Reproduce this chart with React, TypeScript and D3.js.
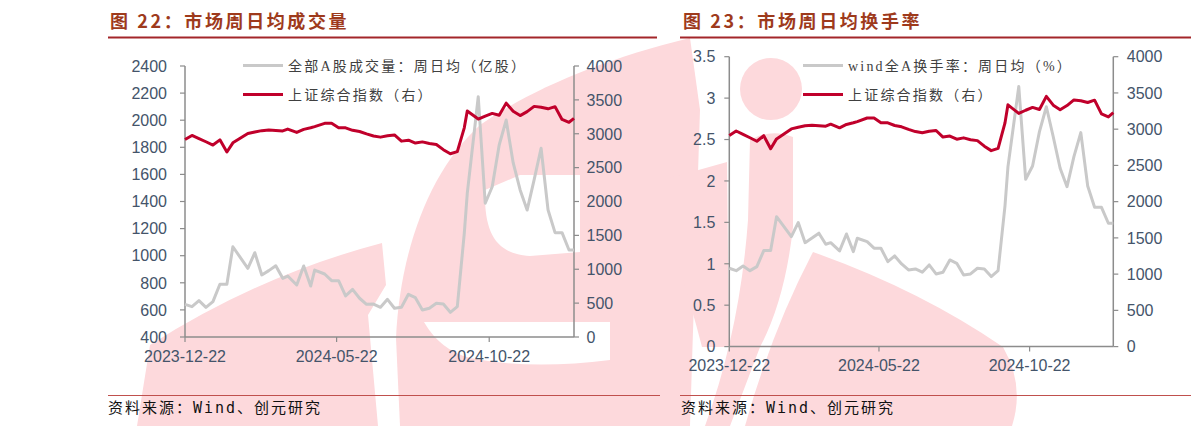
import React from 'react';
import * as d3 from 'd3';

// ---------- DATA ----------
const dates: string[] = [
  '2023-12-22', '2023-12-29', '2024-01-05', '2024-01-12', '2024-01-19', '2024-01-26', '2024-02-02', '2024-02-08',
  '2024-02-23', '2024-03-01', '2024-03-08', '2024-03-15', '2024-03-22', '2024-03-29', '2024-04-03', '2024-04-12',
  '2024-04-19', '2024-04-26', '2024-04-30', '2024-05-10', '2024-05-17', '2024-05-24', '2024-05-31', '2024-06-07',
  '2024-06-14', '2024-06-21', '2024-06-28', '2024-07-05', '2024-07-12', '2024-07-19', '2024-07-26', '2024-08-02',
  '2024-08-09', '2024-08-16', '2024-08-23', '2024-08-30', '2024-09-06', '2024-09-13', '2024-09-20', '2024-09-27',
  '2024-09-30', '2024-10-11', '2024-10-18', '2024-10-25', '2024-11-01', '2024-11-08', '2024-11-15', '2024-11-22',
  '2024-11-29', '2024-12-06', '2024-12-13', '2024-12-20', '2024-12-27', '2025-01-03', '2025-01-10', '2025-01-15',
];

// 上证综合指数（右）
const shIndex: number[] = [
  2914, 2975, 2929, 2882, 2833, 2910, 2730, 2866,
  3004, 3027, 3046, 3055, 3048, 3041, 3069, 3019,
  3065, 3088, 3105, 3154, 3154, 3089, 3087, 3051,
  3033, 2998, 2967, 2950, 2971, 2982, 2891, 2905,
  2862, 2880, 2855, 2842, 2765, 2704, 2736, 3087,
  3336, 3217, 3261, 3300, 3272, 3452, 3331, 3268,
  3326, 3404, 3392, 3368, 3400, 3211, 3169, 3227,
];

// 全部A股成交量：周日均（亿股）
const volume: number[] = [
  641, 624, 668, 619, 661, 789, 789, 1066,
  907, 1022, 858, 890, 926, 833, 850, 784,
  924, 776, 894, 865, 816, 816, 703, 752,
  686, 641, 643, 619, 678, 612, 619, 715,
  690, 599, 612, 649, 643, 582, 624, 1165,
  1460, 2173, 1387, 1509, 1817, 2001, 1686, 1485,
  1337, 1559, 1793, 1337, 1170, 1170, 1042, 1042,
];

// wind全A换手率：周日均（%）
const turnover: number[] = [
  0.946, 0.917, 0.974, 0.917, 0.966, 1.159, 1.159, 1.569,
  1.328, 1.497, 1.255, 1.31, 1.369, 1.236, 1.255, 1.155,
  1.36, 1.147, 1.308, 1.267, 1.188, 1.188, 1.026, 1.095,
  0.998, 0.926, 0.938, 0.898, 0.986, 0.877, 0.898, 1.046,
  1.006, 0.865, 0.877, 0.946, 0.938, 0.845, 0.917, 1.7,
  2.17, 3.14, 2.02, 2.18, 2.595, 2.896, 2.534, 2.153,
  1.931, 2.293, 2.583, 1.939, 1.682, 1.682, 1.489, 1.489,
];

const xTickDates: string[] = ['2023-12-22', '2024-05-22', '2024-10-22'];
const volTicks: number[] = [400, 600, 800, 1000, 1200, 1400, 1600, 1800, 2000, 2200, 2400];
const turnTicks: number[] = [0, 0.5, 1, 1.5, 2, 2.5, 3, 3.5];
const idxTicks: number[] = [0, 500, 1000, 1500, 2000, 2500, 3000, 3500, 4000];

const titles: string[] = ['图 22：市场周日均成交量', '图 23：市场周日均换手率'];
const legendLeft: string[] = ['全部A股成交量：周日均（亿股）', '上证综合指数（右）'];
const legendRight: string[] = ['wind全A换手率：周日均（%）', '上证综合指数（右）'];
const sourceText = '资料来源：Wind、创元研究';

// ---------- STYLE ----------
const W = 1191;
const H = 426;
const GREY = '#c9c9c9';
const RED = '#c0002b';
const AXIS = '#8c8c8c';
const TICK_TXT = '#44546a';
const TITLE = '#9e3a1c';
const PINK = '#fdd9dc';
const NUM_FONT = '"Liberation Sans", Arial, sans-serif';
const CJK_FONT = '"Liberation Serif", "Noto Sans CJK SC", serif';

const parse = d3.timeParse('%Y-%m-%d');
const dateObjs = dates.map((d) => parse(d) as Date);

type PanelProps = {
  left: number; right: number; top: number; bottom: number;
  leftDomain: [number, number]; leftTicks: number[]; leftValues: number[];
  leftFmt: (v: number) => string;
  leftLabelGap: number; rightLabelGap: number;
  legend: string[]; legendX: number;
};

function Panel(p: PanelProps) {
  const x = d3.scaleTime()
    .domain([dateObjs[0], dateObjs[dateObjs.length - 1]])
    .range([p.left, p.right]);
  const yL = d3.scaleLinear().domain(p.leftDomain).range([p.bottom, p.top]);
  const yR = d3.scaleLinear().domain([0, 4000]).range([p.bottom, p.top]);
  const lineL = d3.line<number>().x((_, i) => x(dateObjs[i])).y((v) => yL(v));
  const lineR = d3.line<number>().x((_, i) => x(dateObjs[i])).y((v) => yR(v));
  return (
    <g>
      <line x1={p.left} x2={p.left} y1={p.top} y2={p.bottom} stroke={AXIS} strokeWidth={1.5} />
      <line x1={p.right} x2={p.right} y1={p.top} y2={p.bottom} stroke={AXIS} strokeWidth={1.5} />
      <line x1={p.left} x2={p.right} y1={p.bottom} y2={p.bottom} stroke={AXIS} strokeWidth={1.5} />
      {p.leftTicks.map((t) => (
        <g key={'l' + t}>
          <line x1={p.left - 5} x2={p.left} y1={yL(t)} y2={yL(t)} stroke={AXIS} strokeWidth={1.2} />
          <text x={p.left - p.leftLabelGap} y={yL(t)} dy="0.36em" textAnchor="end"
            fontFamily={NUM_FONT} fontSize={16} fill={TICK_TXT}>{p.leftFmt(t)}</text>
        </g>
      ))}
      {idxTicks.map((t) => (
        <g key={'r' + t}>
          <line x1={p.right} x2={p.right + 5} y1={yR(t)} y2={yR(t)} stroke={AXIS} strokeWidth={1.2} />
          <text x={p.right + p.rightLabelGap} y={yR(t)} dy="0.36em" textAnchor="start"
            fontFamily={NUM_FONT} fontSize={16} fill={TICK_TXT}>{t}</text>
        </g>
      ))}
      {xTickDates.map((d) => {
        const xv = x(parse(d) as Date);
        return (
          <g key={d}>
            <line x1={xv} x2={xv} y1={p.bottom} y2={p.bottom + 5} stroke={AXIS} strokeWidth={1.2} />
            <text x={xv} y={p.bottom + 24.5} textAnchor="middle" fontFamily={NUM_FONT}
              fontSize={16} fill={TICK_TXT}>{d}</text>
          </g>
        );
      })}
      <path d={lineL(p.leftValues) || ''} fill="none" stroke={GREY} strokeWidth={3} strokeLinejoin="round" />
      <path d={lineR(shIndex) || ''} fill="none" stroke={RED} strokeWidth={3} strokeLinejoin="round" />
      <line x1={p.legendX} x2={p.legendX + 40} y1={65.5} y2={65.5} stroke={GREY} strokeWidth={3} />
      <text x={p.legendX + 45} y={70.5} fontFamily={CJK_FONT} fontSize={14} letterSpacing={2.2} fill="#404040">{p.legend[0]}</text>
      <line x1={p.legendX} x2={p.legendX + 40} y1={94.5} y2={94.5} stroke={RED} strokeWidth={3} />
      <text x={p.legendX + 45} y={99.5} fontFamily={CJK_FONT} fontSize={14} letterSpacing={2.2} fill="#404040">{p.legend[1]}</text>
    </g>
  );
}

function Watermark() {
  return (
    <g fill={PINK} stroke="none">
      <path d="M137,426 L150,345 Q260,275 382,243 L386,285 L368,315 L378,426 Z" />
      <path d="M400,426 L396,338 C400,250 430,170 480,125 C530,90 600,60 690,38 L700,110 L690,426 Z" />
      <path d="M485,190 C484,232 495,254 530,256 L580,252 L580,175 L520,175 Z" fill="#ffffff" />
      <path d="M424,322 Q440,350 470,358 Q530,370 610,360 L610,322 Z" fill="#ffffff" />
      <path d="M670,178 L727,162 L729,347 L702,347 Q690,300 670,238 Z" />
      <circle cx={771} cy={89} r={31} />
      <path d="M750,140 Q771,128 793,137 L793,227 Q785,300 760,347 L730,426 L705,426 Q740,330 748,220 Z" />
      <path d="M813,252 Q920,290 1003,347 Q1025,385 1012,426 L745,426 Q772,330 813,252 Z" />
    </g>
  );
}

export default function App() {
  return (
    <svg width={W} height={H} style={{ position: 'absolute', left: 0, top: 0 }}
      xmlns="http://www.w3.org/2000/svg">
      <rect x={0} y={0} width={W} height={H} fill="#ffffff" />
      <Watermark />
      <text x={110} y={28} fontFamily='"Noto Sans CJK SC", sans-serif' fontWeight={700} fontSize={18}
        letterSpacing={2.6} fill={TITLE}>{titles[0]}</text>
      <text x={683} y={28} fontFamily='"Noto Sans CJK SC", sans-serif' fontWeight={700} fontSize={18}
        letterSpacing={2.6} fill={TITLE}>{titles[1]}</text>
      <line x1={108} x2={657} y1={37.5} y2={37.5} stroke="#a3262a" strokeWidth={2} />
      <line x1={680} x2={1191} y1={37.5} y2={37.5} stroke="#a3262a" strokeWidth={2} />
      <Panel left={185} right={574} top={66} bottom={337}
        leftDomain={[400, 2400]} leftTicks={volTicks} leftValues={volume}
        leftFmt={(v) => String(v)} leftLabelGap={18} rightLabelGap={12.5}
        legend={legendLeft} legendX={243} />
      <Panel left={729.3} right={1113.3} top={56.7} bottom={346.6}
        leftDomain={[0, 3.5]} leftTicks={turnTicks} leftValues={turnover}
        leftFmt={(v) => String(v)} leftLabelGap={14} rightLabelGap={13.5}
        legend={legendRight} legendX={803} />
      <line x1={108} x2={660} y1={395.5} y2={395.5} stroke="#c0504d" strokeWidth={1} />
      <line x1={680} x2={1191} y1={395.5} y2={395.5} stroke="#c0504d" strokeWidth={1} />
      <text x={108} y={413} fontFamily='"DejaVu Sans Mono", "Noto Sans CJK SC", monospace' fontSize={15}
        letterSpacing={2} fill="#111">{sourceText}</text>
      <text x={681} y={413} fontFamily='"DejaVu Sans Mono", "Noto Sans CJK SC", monospace' fontSize={15}
        letterSpacing={2} fill="#111">{sourceText}</text>
    </svg>
  );
}
